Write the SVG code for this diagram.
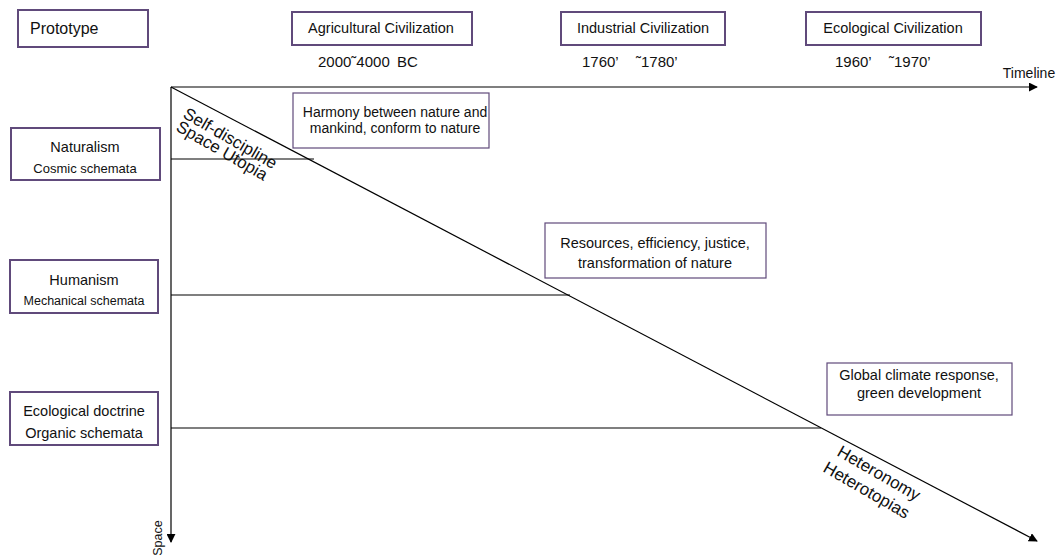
<svg xmlns="http://www.w3.org/2000/svg" width="1059" height="557" viewBox="0 0 1059 557">
  <style>
    text { font-family: "Liberation Sans", Arial, sans-serif; fill: #111; }
    .box { fill: #fff; stroke: #604a7b; stroke-width: 2; }
    .thin { stroke-width: 1.2; }
    .line { stroke: #000; stroke-width: 1.2; fill: none; }
    .t14 { font-size: 14.5px; text-anchor: middle; }
    .t13 { font-size: 13px; text-anchor: middle; }
    .date { font-size: 15px; }
    .tilt { font-size: 17px; }
  </style>
  <defs>
    <marker id="arrow" viewBox="0 0 10 10" refX="9" refY="5" markerWidth="9" markerHeight="9" markerUnits="userSpaceOnUse" orient="auto">
      <path d="M0,0 L10,5 L0,10 Z" fill="#000"/>
    </marker>
  </defs>

  <!-- axes and connectors -->
  <g id="connectors">
    <line class="line" x1="171" y1="87" x2="1037" y2="87" marker-end="url(#arrow)"/>
    <line class="line" x1="171" y1="87" x2="171" y2="542" marker-end="url(#arrow)"/>
    <line class="line" x1="171" y1="87" x2="1037" y2="541" marker-end="url(#arrow)"/>
    <line class="line" x1="171" y1="159" x2="314" y2="159"/>
    <line class="line" x1="171" y1="295" x2="570" y2="295"/>
    <line class="line" x1="171" y1="428" x2="821" y2="428"/>
  </g>

  <!-- axis labels -->
  <g id="axis-labels">
    <text x="1029" y="78" style="font-size:14px" text-anchor="middle">Timeline</text>
    <text transform="translate(162,538) rotate(-90)" style="font-size:12.5px" text-anchor="middle">Space</text>
    <text class="tilt" transform="translate(182,117) rotate(30)">Self-discipline</text>
    <text class="tilt" transform="translate(175,130) rotate(30)">Space Utopia</text>
    <text class="tilt" transform="translate(836,455) rotate(30)">Heteronomy</text>
    <text class="tilt" transform="translate(822,471) rotate(30)">Heterotopias</text>
  </g>

  <!-- header row -->
  <g id="prototype">
    <rect class="box" x="18" y="10" width="130" height="37"/>
    <text x="30" y="34" style="font-size:16px">Prototype</text>
  </g>
  <g id="agricultural">
    <rect class="box" x="292" y="12" width="180" height="33"/>
    <text class="t14" x="381" y="33">Agricultural Civilization</text>
    <text class="date" y="67"><tspan x="318">2000˜4000</tspan><tspan x="397">BC</tspan></text>
  </g>
  <g id="industrial">
    <rect class="box" x="561" y="12" width="164" height="33"/>
    <text class="t14" x="643" y="33">Industrial Civilization</text>
    <text class="date" y="67"><tspan x="582">1760’</tspan><tspan x="636">˜1780’</tspan></text>
  </g>
  <g id="ecological">
    <rect class="box" x="806" y="12" width="175" height="33"/>
    <text class="t14" x="893" y="33">Ecological Civilization</text>
    <text class="date" y="67"><tspan x="835">1960’</tspan><tspan x="889">˜1970’</tspan></text>
  </g>

  <!-- left column -->
  <g id="naturalism">
    <rect class="box" x="11" y="128" width="149" height="52"/>
    <text class="t14" x="85" y="152">Naturalism</text>
    <text class="t13" x="85" y="173">Cosmic schemata</text>
  </g>
  <g id="humanism">
    <rect class="box" x="10" y="260" width="148" height="53"/>
    <text class="t14" x="84" y="285">Humanism</text>
    <text class="t13" x="84" y="305" style="font-size:12.5px">Mechanical schemata</text>
  </g>
  <g id="ecological-doctrine">
    <rect class="box" x="10" y="392" width="148" height="53"/>
    <text class="t14" x="84" y="416">Ecological doctrine</text>
    <text class="t14" x="84" y="438">Organic schemata</text>
  </g>

  <!-- descriptions along the diagonal -->
  <g id="harmony">
    <rect class="box thin" x="293" y="93" width="196" height="55"/>
    <text class="t14" x="395" y="117" style="font-size:14px">Harmony between nature and</text>
    <text class="t14" x="395" y="133" style="font-size:14px">mankind, conform to nature</text>
  </g>
  <g id="resources">
    <rect class="box thin" x="545" y="223" width="221" height="55"/>
    <text class="t14" x="655" y="248">Resources, efficiency, justice,</text>
    <text class="t14" x="655" y="268">transformation  of nature</text>
  </g>
  <g id="global">
    <rect class="box thin" x="827" y="363" width="185" height="52"/>
    <text class="t14" x="919" y="380">Global climate response,</text>
    <text class="t14" x="919" y="398">green development</text>
  </g>
</svg>
